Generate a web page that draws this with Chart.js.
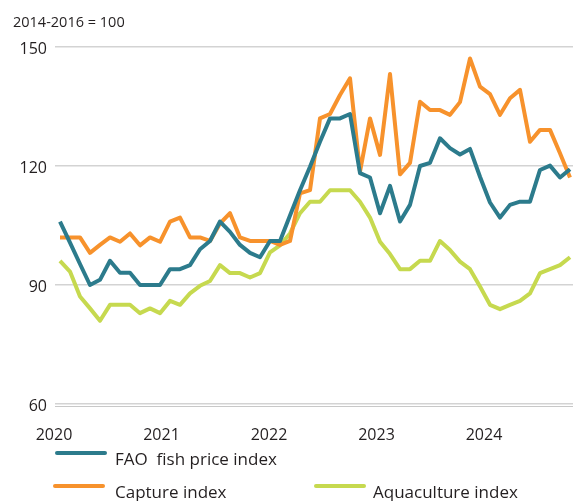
<!DOCTYPE html>
<html>
<head>
<meta charset="utf-8">
<script src="https://cdn.jsdelivr.net/npm/chart.js@4.4.1/dist/chart.umd.min.js"></script>
<style>
  html, body { margin: 0; padding: 0; background: #fff; }
  #wrap { width: 580px; height: 501px; }
</style>
</head>
<body>
<div id="wrap"><canvas id="grafico" width="580" height="501"></canvas></div>
<script>
// monthly values, Jan 2020 - Apr 2024
const fishPriceIndex = [
  106, 100.7, 95.3, 90, 91.3, 96.1, 93.1, 93.1, 90, 90,
  90, 94, 94, 95, 99, 101.1, 106, 103.4, 100.1, 98.1,
  97, 101.1, 101.1, 107.5, 113.9, 119.8, 126.1, 132, 132, 133.1,
  118.2, 117.1, 108.1, 115, 106, 110.2, 120, 120.8, 127, 124.5,
  122.9, 124.3, 117.3, 110.8, 107, 110.2, 111, 111, 119, 120.1,
  117.1, 119.2
];
const captureIndex = [
  102, 102, 102, 98.1, 100.1, 102, 100.9, 103, 100, 102,
  100.9, 106, 107, 102, 102, 101.1, 105.5, 108.1, 102, 101.1,
  101.1, 101.1, 100.1, 101.1, 113.1, 113.9, 132, 133.1, 137.9, 142.1,
  118.6, 132, 122.8, 143.2, 117.9, 120.8, 136.2, 134.1, 134.1, 132.9,
  136.1, 147.1, 140, 138.1, 132.9, 137.1, 139.2, 126.1, 129.1, 129.1,
  123.2, 117.1
];
const aquacultureIndex = [
  96.1, 93.4, 87.1, 84.1, 81, 85, 85, 85, 82.9, 84.1,
  82.9, 86, 85, 87.9, 89.8, 91, 95, 93, 93, 91.9,
  93, 98.2, 100, 103, 108.1, 111, 111, 113.9, 113.9, 113.9,
  111, 107, 100.9, 97.8, 94, 94, 96.1, 96.1, 101.1, 98.8,
  95.9, 94, 89.6, 85, 83.9, 85, 86, 87.9, 93, 94,
  95, 97
];
const yearLabels = ['2020', '2021', '2022', '2023', '2024'];
const yearTickAt = [-0.6, 10.15, 20.9, 31.65, 42.4];
const yTicks = [60, 90, 120, 150];
const unitLabel = '2014-2016 = 100';
const seriesNames = ['FAO  fish price index', 'Capture index', 'Aquaculture index'];
const seriesColors = ['#2c7b8c', '#f7922c', '#c6d94f'];

const FONT = '"Open Sans", sans-serif';
const TEXT = '#231f20';

const pts = arr => arr.map((v, i) => ({ x: i, y: v }));

// title, double base line and the legend
const extras = {
  id: 'extras',
  beforeDatasetsDraw(chart) {
    const ctx = chart.ctx;
    const a = chart.chartArea;
    ctx.save();
    ctx.strokeStyle = '#c8c8c8';
    ctx.lineWidth = 1.2;
    ctx.beginPath();
    ctx.moveTo(a.left, a.bottom + 2.5);
    ctx.lineTo(a.right, a.bottom + 2.5);
    ctx.stroke();
    ctx.restore();
  },
  afterDraw(chart) {
    const ctx = chart.ctx;
    ctx.save();
    ctx.fillStyle = TEXT;
    ctx.textBaseline = 'alphabetic';
    ctx.font = '14.5px ' + FONT;
    ctx.fillText(unitLabel, 13, 27);

    const spots = [[57, 115, 465], [55, 115, 498], [316, 373, 498]];
    chart.data.datasets.forEach((ds, i) => {
      const [lx, tx, y] = spots[i];
      ctx.strokeStyle = ds.borderColor;
      ctx.lineWidth = 4;
      ctx.lineCap = 'round';
      ctx.beginPath();
      ctx.moveTo(lx, y - 12);
      ctx.lineTo(lx + 48, y - 12);
      ctx.stroke();
      ctx.fillStyle = TEXT;
      ctx.font = '17px ' + FONT;
      ctx.fillText(ds.label, tx, y);
    });
    ctx.restore();
  }
};

const ctx = document.getElementById('grafico').getContext('2d');
const chart = new Chart(ctx, {
  type: 'line',
  data: {
    datasets: [
      { label: seriesNames[0], data: pts(fishPriceIndex), borderColor: seriesColors[0] },
      { label: seriesNames[1], data: pts(captureIndex), borderColor: seriesColors[1] },
      { label: seriesNames[2], data: pts(aquacultureIndex), borderColor: seriesColors[2] }
    ]
  },
  options: {
    responsive: false,
    animation: false,
    layout: { padding: { top: 47, right: 7, left: 0, bottom: 0 } },
    elements: {
      line: { borderWidth: 4, tension: 0, fill: false, borderJoinStyle: 'round' },
      point: { radius: 0 }
    },
    scales: {
      x: {
        type: 'linear',
        min: -0.5,
        max: 51.3,
        afterBuildTicks: axis => { axis.ticks = yearTickAt.map(v => ({ value: v })); },
        afterFit: axis => { axis.height = 97; },
        border: { display: false },
        grid: { display: false },
        ticks: {
          autoSkip: false,
          maxRotation: 0,
          padding: 14,
          color: TEXT,
          font: { family: FONT, size: 16 },
          callback: (v, i) => yearLabels[i]
        }
      },
      y: {
        min: 60,
        max: 150,
        afterBuildTicks: axis => { axis.ticks = yTicks.map(v => ({ value: v })); },
        afterFit: axis => { axis.width = 55; },
        border: { display: false },
        grid: { color: '#d3d3d3', lineWidth: 1.5, drawTicks: false },
        ticks: {
          padding: 8,
          labelOffset: 2,
          color: TEXT,
          font: { family: FONT, size: 16 }
        }
      }
    },
    plugins: {
      legend: { display: false },
      title: { display: false },
      tooltip: { enabled: false }
    }
  },
  plugins: [extras]
});
</script>
</body>
</html>
